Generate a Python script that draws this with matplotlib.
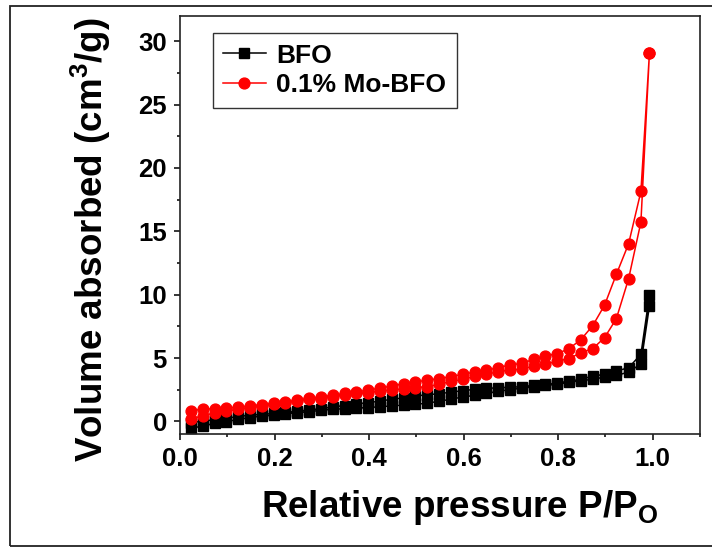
import matplotlib
matplotlib.use("Agg")
import matplotlib.pyplot as plt
from matplotlib.patches import Rectangle
from matplotlib.ticker import MultipleLocator

# relative pressure for the adsorption branch (desorption runs back along the same points)
p_ads = [0.023, 0.048, 0.073, 0.098, 0.123, 0.148, 0.173, 0.198, 0.223, 0.248,
         0.273, 0.298, 0.323, 0.348, 0.373, 0.398, 0.423, 0.448, 0.473, 0.498,
         0.523, 0.548, 0.573, 0.598, 0.623, 0.648, 0.673, 0.698, 0.723, 0.748,
         0.773, 0.798, 0.823, 0.848, 0.873, 0.898, 0.923, 0.949, 0.975, 0.993]
p_des = p_ads[::-1]

bfo_ads = [-0.55, -0.37, -0.16, -0.03, 0.16, 0.29, 0.42, 0.47, 0.60, 0.68,
           0.76, 0.87, 0.95, 1.00, 1.05, 1.08, 1.16, 1.21, 1.29, 1.34,
           1.44, 1.58, 1.75, 1.92, 2.05, 2.20, 2.38, 2.50, 2.62, 2.72,
           2.84, 2.92, 3.08, 3.22, 3.31, 3.50, 3.63, 3.88, 4.55, 9.10]
bfo_des = [9.95, 5.29, 4.23, 3.97, 3.71, 3.57, 3.31, 3.18, 3.02, 2.92,
           2.84, 2.74, 2.68, 2.65, 2.60, 2.52, 2.42, 2.30, 2.18, 2.10,
           2.00, 1.85, 1.74, 1.60, 1.47, 1.39, 1.25, 1.13, 1.00, 0.90,
           0.80, 0.70, 0.62, 0.55, 0.48, 0.38, 0.25, 0.12, 0.02, -0.10]

mo_ads = [0.21, 0.42, 0.68, 0.81, 0.95, 1.08, 1.21, 1.34, 1.47, 1.60,
          1.74, 1.79, 1.95, 2.08, 2.21, 2.26, 2.39, 2.47, 2.58, 2.66,
          2.74, 2.92, 3.15, 3.31, 3.55, 3.71, 3.92, 4.05, 4.12, 4.37,
          4.50, 4.76, 4.95, 5.42, 5.74, 6.60, 8.10, 11.26, 15.73, 29.05]
mo_des = [29.05, 18.15, 14.02, 11.60, 9.16, 7.55, 6.45, 5.74, 5.34, 5.16,
          4.89, 4.58, 4.45, 4.24, 4.03, 3.89, 3.71, 3.53, 3.37, 3.26,
          3.10, 2.97, 2.79, 2.62, 2.47, 2.32, 2.21, 2.05, 1.95, 1.82,
          1.68, 1.53, 1.42, 1.32, 1.22, 1.13, 1.05, 0.98, 0.98, 0.81]

plt.rcParams["font.family"] = "Liberation Sans"
plt.rcParams["font.weight"] = "bold"
plt.rcParams["mathtext.fontset"] = "custom"
plt.rcParams["mathtext.rm"] = "Liberation Sans:bold"
plt.rcParams["mathtext.it"] = "Liberation Sans:bold"
plt.rcParams["mathtext.bf"] = "Liberation Sans:bold"

fig = plt.figure(figsize=(7.12, 5.5), dpi=100)
ax = fig.add_axes([180 / 712, 1 - 434 / 550, 520 / 712, 418 / 550])

# outer frame round the whole picture
fig.patches.append(Rectangle((10 / 712, 1 - 546 / 550), 710 / 712, 540 / 550,
                             transform=fig.transFigure, fill=False,
                             edgecolor="#222222", linewidth=1.3))

ax.plot(p_ads + p_des, bfo_ads + bfo_des, color="black", marker="s",
        markersize=6.8, linewidth=1.1, label="BFO")
ax.plot(p_ads + p_des, mo_ads + mo_des, color="red", marker="o",
        markersize=7.8, linewidth=1.1, label="0.1% Mo-BFO")

ax.set_xlim(0, 1.1)
ax.set_ylim(-1, 32)
ax.xaxis.set_minor_locator(MultipleLocator(0.1))
ax.yaxis.set_major_locator(MultipleLocator(5))
ax.yaxis.set_minor_locator(MultipleLocator(2.5))
ax.set_xticks([0.0, 0.2, 0.4, 0.6, 0.8, 1.0])
ax.set_xticklabels(["0.0", "0.2", "0.4", "0.6", "0.8", "1.0"])
ax.tick_params(which="major", direction="out", length=4.5, width=1.1,
               labelsize=18.5, pad=5)
ax.tick_params(which="minor", direction="out", length=2.5, width=1.1)
for lab in ax.get_xticklabels() + ax.get_yticklabels():
    lab.set_fontweight("bold")
for s in ax.spines.values():
    s.set_linewidth(1.2)
    s.set_color("#222222")

ax.set_xlabel(r"Relative pressure P/P$_\mathregular{O}$", fontsize=26.5,
              fontweight="bold")
ax.set_ylabel(r"Volume absorbed (cm$^\mathregular{3}$/g)", fontsize=26.5,
              fontweight="bold")
ax.xaxis.set_label_coords(0.537, -0.13)
ax.yaxis.set_label_coords(-0.128, 0.465)

leg = ax.legend(loc="upper left", bbox_to_anchor=(0.063, 0.959),
                borderaxespad=0, fancybox=False, frameon=True,
                prop={"size": 19, "weight": "bold"}, handlelength=1.6,
                handletextpad=0.4, borderpad=0.4, labelspacing=0.2)
leg.get_frame().set_edgecolor("black")
leg.get_frame().set_linewidth(1.0)

fig.savefig("out.png", dpi=100)
